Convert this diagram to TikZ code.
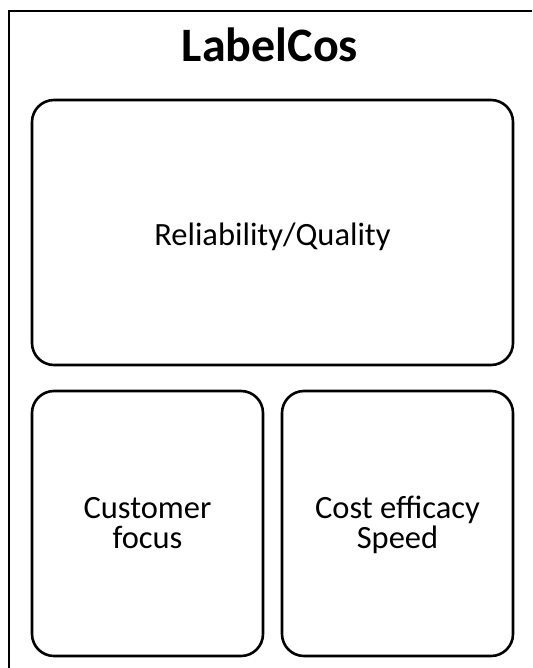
\documentclass[tikz,border=0pt]{standalone}
\usepackage{fontspec}
\setmainfont{Carlito}
\begin{document}
\begin{tikzpicture}[x=1pt,y=-1pt,
  box/.style={draw=black,line width=2.6pt,rounded corners=22pt},
  lbl/.style={font=\fontsize{32.5}{30}\selectfont,align=center,inner sep=0pt}]
\path[use as bounding box] (0,0) rectangle (532,668);
\draw[line width=2pt,line cap=butt] (8.5,668) -- (8.5,11) -- (532,11);
\node[font=\fontsize{48}{48}\selectfont\bfseries,inner sep=0pt,anchor=base] (title) at (270,62) {LabelCos};
\draw[box] (32,100) rectangle (513,365);
\node[lbl,anchor=base] (rel) at (272.5,245) {Reliability/Quality};
\draw[box] (32,391) rectangle (263,656);
\node[lbl,anchor=base] (cf) at (147.5,548) {Customer\\focus};
\draw[box] (282,391) rectangle (513,656);
\node[lbl,anchor=base] (ce) at (397.5,548) {Cost efficacy\\Speed};
\end{tikzpicture}
\end{document}
